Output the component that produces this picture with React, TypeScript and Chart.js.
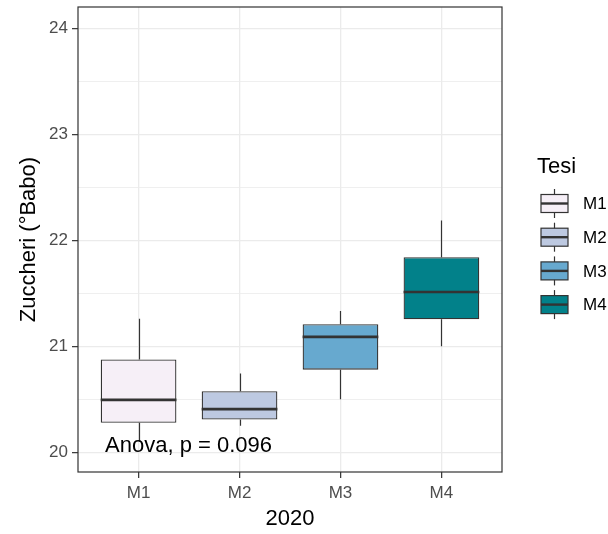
import React, { useEffect, useRef } from "react";
import { Chart, registerables } from "chart.js";

Chart.register(...registerables);

// ---- data ----
const CATEGORIES = ["M1", "M2", "M3", "M4"];
const WHISKER_LOW = [20.1, 20.25, 20.5, 21.0];
const Q1 = [20.28, 20.31, 20.78, 21.255];
const MEDIAN = [20.495, 20.408, 21.089, 21.513];
const Q3 = [20.876, 20.577, 21.208, 21.84];
const WHISKER_HIGH = [21.26, 20.744, 21.333, 22.187];
const FILL_COLORS = ["#F6EFF7", "#BDC9E1", "#67A9CF", "#02818A"];
const Y_MAJOR_TICKS = [20, 21, 22, 23, 24];
const Y_MINOR_TICKS = [20.5, 21.5, 22.5, 23.5];
const Y_MIN = 19.815;
const Y_MAX = 24.2;
const X_MIN = 0.4;
const X_MAX = 4.6;
const ANOVA_LABEL = "Anova, p = 0.096";
const ANOVA_X = 0.668;
const ANOVA_Y = 20;
const LEGEND_TITLE = "Tesi";
const X_TITLE = "2020";
const Y_TITLE = "Zuccheri (°Babo)";

const FONT = "'Liberation Sans', Arial, sans-serif";
const DARK = "#333333";
const GRID = "#EBEBEB";

const boxplotPlugin = {
  id: "boxplotExtras",
  beforeDatasetsDraw(chart: any) {
    const ctx = chart.ctx;
    const y = chart.scales.y;
    const meta = chart.getDatasetMeta(0);
    ctx.save();
    ctx.strokeStyle = DARK;
    ctx.lineWidth = 1.2;
    meta.data.forEach((bar: any, i: number) => {
      const x = Math.round(bar.x) + 0.5;
      ctx.beginPath();
      ctx.moveTo(x, y.getPixelForValue(Q3[i]));
      ctx.lineTo(x, y.getPixelForValue(WHISKER_HIGH[i]));
      ctx.moveTo(x, y.getPixelForValue(Q1[i]));
      ctx.lineTo(x, y.getPixelForValue(WHISKER_LOW[i]));
      ctx.stroke();
    });
    ctx.restore();
  },
  afterDatasetsDraw(chart: any) {
    const ctx = chart.ctx;
    const xs = chart.scales.x;
    const y = chart.scales.y;
    const meta = chart.getDatasetMeta(0);
    ctx.save();
    // medians
    ctx.strokeStyle = DARK;
    ctx.lineWidth = 2.6;
    meta.data.forEach((bar: any, i: number) => {
      const half = bar.width / 2;
      const py = y.getPixelForValue(MEDIAN[i]);
      ctx.beginPath();
      ctx.moveTo(bar.x - half, py);
      ctx.lineTo(bar.x + half, py);
      ctx.stroke();
    });
    // anova label
    ctx.fillStyle = "#000000";
    ctx.font = `22px ${FONT}`;
    ctx.textAlign = "left";
    ctx.textBaseline = "alphabetic";
    ctx.fillText(ANOVA_LABEL, xs.getPixelForValue(ANOVA_X), y.getPixelForValue(ANOVA_Y));
    // panel border
    const a = chart.chartArea;
    ctx.strokeStyle = DARK;
    ctx.lineWidth = 1.2;
    ctx.strokeRect(a.left, a.top, a.right - a.left, a.bottom - a.top);

    // legend
    const lx = a.right + 35;
    ctx.fillStyle = "#000000";
    ctx.font = `22px ${FONT}`;
    ctx.fillText(LEGEND_TITLE, lx, 173);
    const keyCx = lx + 17.5;
    const keyW = 27;
    CATEGORIES.forEach((c, i) => {
      const cy = 203.5 + 33.7 * i;
      ctx.strokeStyle = DARK;
      ctx.lineWidth = 1.2;
      ctx.beginPath();
      ctx.moveTo(keyCx, cy - 14.5);
      ctx.lineTo(keyCx, cy + 14.5);
      ctx.stroke();
      ctx.fillStyle = FILL_COLORS[i];
      ctx.fillRect(keyCx - keyW / 2, cy - 9, keyW, 18);
      ctx.strokeRect(keyCx - keyW / 2, cy - 9, keyW, 18);
      ctx.lineWidth = 2.4;
      ctx.beginPath();
      ctx.moveTo(keyCx - keyW / 2, cy);
      ctx.lineTo(keyCx + keyW / 2, cy);
      ctx.stroke();
      ctx.fillStyle = "#000000";
      ctx.font = `17px ${FONT}`;
      ctx.textBaseline = "middle";
      ctx.fillText(c, lx + 46, cy + 1);
      ctx.textBaseline = "alphabetic";
    });
    ctx.restore();
  },
};

export default function App() {
  const ref = useRef<HTMLCanvasElement | null>(null);

  useEffect(() => {
    document.body.style.margin = "0";
    const canvas = ref.current;
    if (!canvas) return;
    const yTicks = [...Y_MAJOR_TICKS, ...Y_MINOR_TICKS].sort((p, q) => p - q);
    const isMajor = (v: number) => Y_MAJOR_TICKS.includes(v);

    const chart = new Chart(canvas, {
      type: "bar",
      data: {
        datasets: [
          {
            data: CATEGORIES.map((_, i) => ({ x: i + 1, y: [Q1[i], Q3[i]] })) as any,
            backgroundColor: FILL_COLORS,
            borderColor: DARK,
            borderWidth: 1.3,
            borderSkipped: false,
            barPercentage: 0.75,
            categoryPercentage: 1,
            inflateAmount: 0,
          } as any,
        ],
      },
      options: {
        responsive: false,
        animation: false,
        events: [],
        layout: { padding: { left: 0, right: 106, top: 7, bottom: 0 } },
        plugins: { legend: { display: false }, tooltip: { enabled: false } },
        scales: {
          x: {
            type: "linear",
            min: X_MIN,
            max: X_MAX,
            offset: false,
            afterBuildTicks: (s: any) => {
              s.ticks = CATEGORIES.map((_, i) => ({ value: i + 1 }));
            },
            afterFit: (s: any) => {
              s.height = 62;
              s.paddingLeft = 0;
              s.paddingRight = 0;
            },
            ticks: {
              autoSkip: false,
              maxRotation: 0,
              padding: 5,
              color: "#4D4D4D",
              font: { family: FONT, size: 17 },
              callback: (v: any) => CATEGORIES[Math.round(Number(v)) - 1] ?? "",
            },
            grid: {
              offset: false,
              color: GRID,
              lineWidth: 1.3,
              tickLength: 6,
              tickColor: DARK,
              tickWidth: 1.2,
            } as any,
            border: { display: false },
            title: {
              display: true,
              text: X_TITLE,
              color: "#000000",
              font: { family: FONT, size: 22 },
              padding: { top: 0, bottom: 2 },
            },
          },
          y: {
            type: "linear",
            min: Y_MIN,
            max: Y_MAX,
            afterBuildTicks: (s: any) => {
              s.ticks = yTicks.map((v) => ({ value: v }));
            },
            afterFit: (s: any) => {
              s.width = 78;
              s.paddingTop = 0;
              s.paddingBottom = 0;
            },
            ticks: {
              autoSkip: false,
              padding: 4,
              color: "#4D4D4D",
              font: { family: FONT, size: 17 },
              callback: (v: any) => (isMajor(Number(v)) ? String(v) : ""),
            },
            grid: {
              color: GRID,
              lineWidth: (c: any) => (isMajor(c.tick?.value) ? 1.3 : 0.8),
              tickLength: 6,
              tickColor: (c: any) => (isMajor(c.tick?.value) ? DARK : "rgba(0,0,0,0)"),
              tickWidth: 1.2,
            } as any,
            border: { display: false },
            title: {
              display: true,
              text: Y_TITLE,
              color: "#000000",
              font: { family: FONT, size: 22 },
              padding: { top: 16, bottom: 0 },
            },
          },
        },
      },
      plugins: [boxplotPlugin],
    });
    return () => chart.destroy();
  }, []);

  return (
    <div style={{ width: 608, height: 534, background: "#ffffff" }}>
      <canvas ref={ref} width={608} height={534} style={{ display: "block" }} />
    </div>
  );
}
